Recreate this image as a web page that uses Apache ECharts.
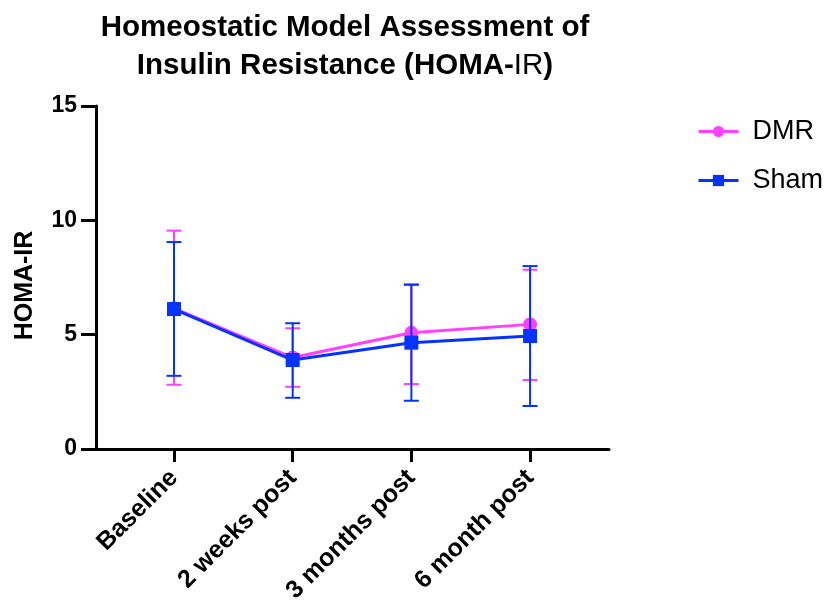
<!DOCTYPE html>
<html>
<head>
<meta charset="utf-8">
<script src="https://cdn.jsdelivr.net/npm/echarts@6/dist/echarts.min.js"></script>
<style>html,body{margin:0;padding:0;background:#fff;}#c{width:830px;height:609px;}</style>
</head>
<body>
<div id="c"></div>
<script>
const categories = ['Baseline', '2 weeks post', '3 months post', '6 month post'];
const yTicks = [0, 5, 10, 15];

const dmrMean = [6.15, 4.00, 5.08, 5.45];
const dmrHigh = [9.55, 5.28, 7.21, 7.84];
const dmrLow  = [2.81, 2.72, 2.84, 3.02];

const shamMean = [6.12, 3.89, 4.65, 4.94];
const shamHigh = [9.05, 5.50, 7.18, 8.00];
const shamLow  = [3.20, 2.24, 2.11, 1.88];

const FONT = 'Liberation Sans, Arial, Helvetica, sans-serif';
const DMR_COLOR = '#ff40ff';
const SHAM_COLOR = '#0433ff';

function pts(arr) { return arr.map((v, i) => [i, v]); }
function errData(low, high) { return low.map((l, i) => [i, l, high[i]]); }

function errorRender(color) {
  return function (params, api) {
    const x = api.value(0);
    const lo = api.coord([x, api.value(1)]);
    const hi = api.coord([x, api.value(2)]);
    const half = 7.5;
    const style = { stroke: color, lineWidth: 2, fill: null };
    return {
      type: 'group',
      children: [
        { type: 'line', shape: { x1: lo[0], y1: lo[1], x2: hi[0], y2: hi[1] }, style },
        { type: 'line', shape: { x1: hi[0] - half, y1: hi[1], x2: hi[0] + half, y2: hi[1] }, style },
        { type: 'line', shape: { x1: lo[0] - half, y1: lo[1], x2: lo[0] + half, y2: lo[1] }, style }
      ]
    };
  };
}

const chart = echarts.init(document.getElementById('c'), null, { renderer: 'canvas' });
chart.setOption({
  animation: false,
  backgroundColor: '#fff',
  textStyle: { fontFamily: FONT },
  title: {
    text: 'Homeostatic Model Assessment of\nInsulin Resistance (HOMA-{n|IR})',
    left: 340,
    top: 4,
    textAlign: 'center',
    textStyle: {
      fontFamily: FONT, fontSize: 29.5, fontWeight: 'bold', color: '#000', lineHeight: 38,
      rich: { n: { fontFamily: FONT, fontSize: 29.5, fontWeight: 'normal', color: '#000', lineHeight: 38 } }
    }
  },
  legend: {
    orient: 'vertical',
    left: 692,
    top: 113,
    itemWidth: 40,
    itemHeight: 14,
    itemGap: 22,
    lineStyle: { width: 3 },
    textStyle: { fontFamily: FONT, fontSize: 27, color: '#000', padding: [0, 0, 0, 9] },
    data: ['DMR', 'Sham']
  },
  grid: { left: 96, right: 830 - 609, top: 106, bottom: 609 - 449, containLabel: false },
  xAxis: {
    type: 'value',
    min: -0.657,
    max: 3.665,
    splitLine: { show: false },
    axisLine: { show: true, onZero: false, lineStyle: { color: '#000', width: 3 } },
    axisTick: { show: true, customValues: [0, 1, 2, 3], length: 13, lineStyle: { color: '#000', width: 3 } },
    axisLabel: {
      customValues: [0, 1, 2, 3],
      rotate: 45,
      margin: 25,
      fontFamily: FONT, fontSize: 25, fontWeight: 'bold', color: '#000',
      formatter: v => categories[Math.round(v)] || ''
    }
  },
  yAxis: {
    type: 'value',
    min: 0,
    max: 15,
    interval: 5,
    name: 'HOMA-IR',
    nameLocation: 'middle',
    nameGap: 58,
    nameRotate: 90,
    nameTextStyle: { fontFamily: FONT, fontSize: 25, fontWeight: 'bold', color: '#000', padding: [0, 16, 0, 0] },
    splitLine: { show: false },
    axisLine: { show: true, onZero: false, lineStyle: { color: '#000', width: 3 } },
    axisTick: { show: true, length: 15, lineStyle: { color: '#000', width: 3 } },
    axisLabel: {
      margin: 19,
      fontFamily: FONT, fontSize: 23, fontWeight: 'bold', color: '#000',
      formatter: v => yTicks.indexOf(v) >= 0 ? String(v) : ''
    }
  },
  series: [
    {
      name: 'DMR', type: 'line', data: pts(dmrMean), z: 3,
      symbol: 'circle', symbolSize: 14,
      lineStyle: { color: DMR_COLOR, width: 3 },
      itemStyle: { color: DMR_COLOR }
    },
    {
      name: 'DMR-err', type: 'custom', data: errData(dmrLow, dmrHigh), z: 2,
      renderItem: errorRender(DMR_COLOR), silent: true
    },
    {
      name: 'Sham', type: 'line', data: pts(shamMean), z: 5,
      symbol: 'rect', symbolSize: 14,
      lineStyle: { color: SHAM_COLOR, width: 3 },
      itemStyle: { color: SHAM_COLOR }
    },
    {
      name: 'Sham-err', type: 'custom', data: errData(shamLow, shamHigh), z: 4,
      renderItem: errorRender(SHAM_COLOR), silent: true
    }
  ]
});
</script>
</body>
</html>
